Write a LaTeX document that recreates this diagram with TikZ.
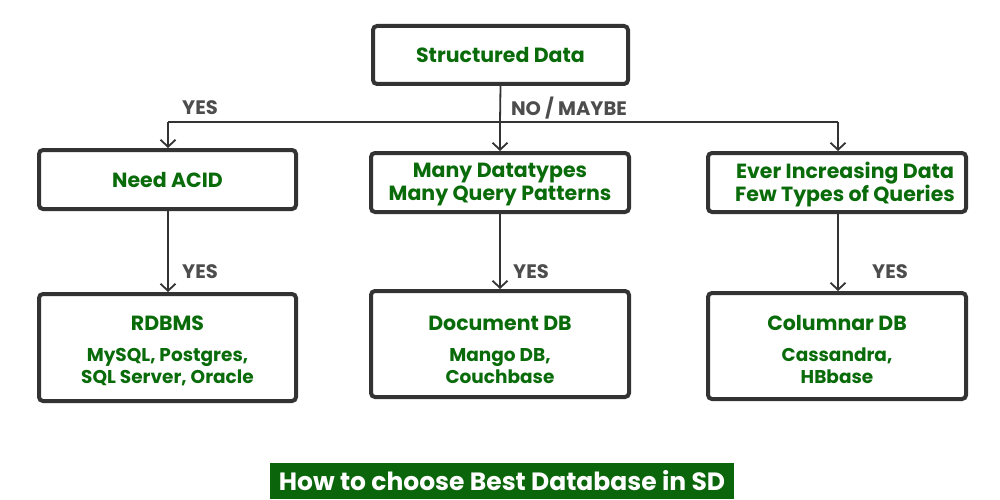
\documentclass[tikz,border=0pt]{standalone}
\usepackage{fontspec}
\setmainfont{Poppins}
\usetikzlibrary{arrows.meta}
\definecolor{boxline}{HTML}{333333}
\definecolor{txtgreen}{HTML}{0A6B0A}
\definecolor{lblgrey}{HTML}{4D4D4D}
\definecolor{titlegreen}{HTML}{0B650B}
\begin{document}
\begin{tikzpicture}[x=1pt,y=-1pt,
  box/.style={draw=boxline,line width=4pt,rounded corners=4pt,fill=white,inner sep=0pt,
    text=txtgreen,font=\bfseries\fontsize{20.5}{23}\selectfont,align=center},
  conn/.style={draw=boxline,line width=1.8pt},
  arr/.style={conn,-{Straight Barb[length=7pt,width=15pt,line width=1.8pt]}},
  lbl/.style={text=lblgrey,font=\bfseries\fontsize{19.5}{20}\selectfont,inner sep=0pt},
  head/.style={text=txtgreen,font=\bfseries\fontsize{20.5}{23}\selectfont,inner sep=0pt,align=center},
  sub/.style={text=txtgreen,font=\bfseries\fontsize{18.5}{22}\selectfont,align=center,inner sep=0pt}
]
\useasboundingbox (0,0) rectangle (1000,500);
% boxes
\node[box,minimum width=255pt,minimum height=58pt] (top) at (500.5,55) {Structured Data};
\node[box,minimum width=257pt,minimum height=59pt] (acid) at (167.5,179.5) {Need ACID};
\node[box,minimum width=258pt,minimum height=59pt] (many) at (500,182.5) {};
\node[box,minimum width=258pt,minimum height=59pt] (ever) at (837,182.5) {};
\node[box,minimum width=257pt,minimum height=107pt] (rdb) at (167.5,347.5) {};
\node[box,minimum width=258pt,minimum height=106pt] (doc) at (500,344) {};
\node[box,minimum width=258pt,minimum height=106pt] (col) at (837,346) {};
% texts in two-line boxes
\node[head] (manyt) at (500,185) {Many Datatypes\\Many Query Patterns};
\node[head] (evert) at (845,185) {Ever Increasing Data\\Few Types of Queries};
% texts in bottom boxes
\node[head] (rdbt) at (167.5,323) {RDBMS};
\node[sub] (rdbs) at (167.5,367) {MySQL, Postgres,\\SQL Server, Oracle};
\node[head] (doct) at (500,323) {Document DB};
\node[sub] (docs) at (500,366) {Mango DB,\\Couchbase};
\node[head] (colt) at (837,323) {Columnar DB};
\node[sub] (cols) at (837,366) {Cassandra,\\HBbase};
% connectors
\coordinate (j) at (500,122);
\coordinate (jl) at (168,122);
\coordinate (jr) at (838,122);
\draw[conn] (top.south) -- (j);
\draw[conn] (jl) -- (jr);
\draw[arr] (jl) -- (acid.north -| jl);
\draw[arr] (j) -- (many.north);
\draw[arr] (jr) -- (ever.north -| jr);
\draw[arr] (acid.south -| jl) -- (rdb.north -| jl);
\draw[arr] (many.south) -- (doc.north);
\draw[arr] (ever.south -| jr) -- (col.north -| jr);
% labels
\node[lbl] (yes0) at (200,108) {YES};
\node[lbl] (nomay) at (569,108) {NO / MAYBE};
\node[lbl] (yes1) at (200,272) {YES};
\node[lbl] (yes2) at (531,272) {YES};
\node[lbl] (yes3) at (890,272) {YES};
% title
\node[fill=titlegreen,text=white,font=\bfseries\fontsize{25}{28}\selectfont,minimum width=464pt,minimum height=36pt,inner sep=0pt] (title) at (502,481) {How to choose Best Database in SD};
\end{tikzpicture}
\end{document}
